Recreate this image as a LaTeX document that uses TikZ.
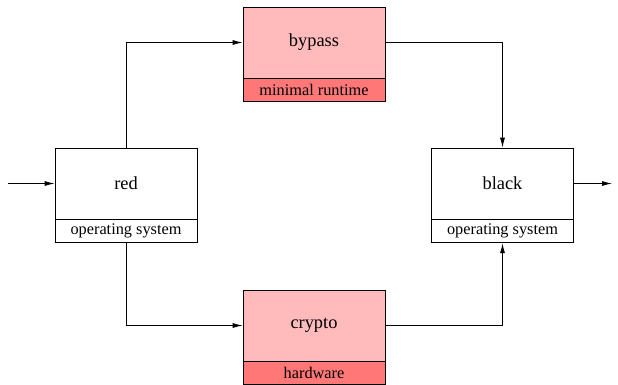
\documentclass[tikz,border=0pt]{standalone}
\usepackage{fontspec}
\setmainfont{Liberation Serif}
\usetikzlibrary{arrows.meta}
\definecolor{lightred}{HTML}{FFBBBB}
\definecolor{darkred}{HTML}{FF7777}
\tikzset{
  mainbox/.style={draw=black, line width=0.8pt, minimum width=142pt, minimum height=71pt, inner sep=0pt, font=\fontsize{18.4}{20}\selectfont},
  subbox/.style={draw=black, line width=0.8pt, minimum width=142pt, minimum height=23pt, inner sep=0pt, font=\fontsize{16.3}{18}\selectfont, anchor=north},
  conn/.style={line width=0.8pt, -{Latex[length=10pt,width=5pt]}},
}
\begin{document}
\begin{tikzpicture}[x=1pt,y=-1pt]
\useasboundingbox (0,0) rectangle (618,384);
% red
\node[mainbox, fill=white] (red) at (126,183.5) {red};
\node[subbox, fill=white] (redos) at (red.south) {operating system};
% black
\node[mainbox, fill=white] (black) at (502.5,183.5) {black};
\node[subbox, fill=white] (blackos) at (black.south) {operating system};
% bypass
\node[mainbox, fill=lightred] (bypass) at (314,42.5) {bypass};
\node[subbox, fill=darkred] (bypassrt) at (bypass.south) {minimal runtime};
% crypto
\node[mainbox, fill=lightred] (crypto) at (314,325.5) {crypto};
\node[subbox, fill=darkred] (cryptohw) at (crypto.south) {hardware};
% io
\coordinate (in) at (8,183.5);
\coordinate (out) at (612,183.5);
\draw[conn] (in) -- (red.west);
\draw[conn] (black.east) -- (out);
% connectors
\draw[conn] (red.north) |- (bypass.west);
\draw[conn] (redos.south) |- (crypto.west);
\draw[conn] (bypass.east) -| (black.north);
\draw[conn] (crypto.east) -| (blackos.south);
\end{tikzpicture}
\end{document}
